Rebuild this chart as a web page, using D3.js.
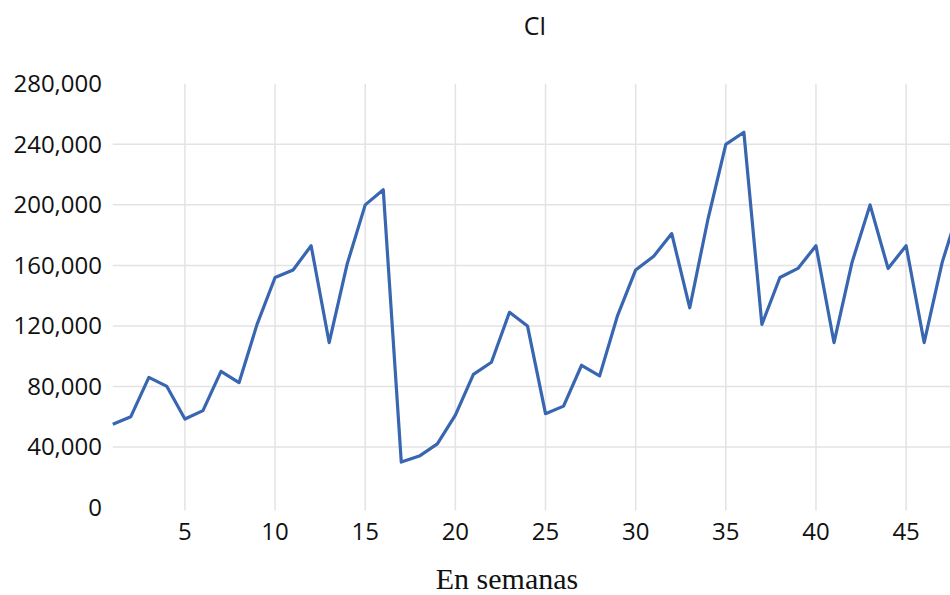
<!DOCTYPE html>
<html>
<head>
<meta charset="utf-8">
<script src="https://d3js.org/d3.v7.min.js"></script>
<style>
  body { margin: 0; background: #fff; }
  svg { display: block; }
</style>
</head>
<body>
<svg id="chart" width="950" height="595"></svg>
<script>
// weekly values
const weeks = d3.range(1, 49);
const ciValues = [
  55000, 60000, 86000, 80000, 58500, 64000, 90000, 82500, 121000, 152000,
  157000, 173000, 109000, 161000, 200000, 210000, 30000, 34000, 42000, 61000,
  88000, 96000, 129000, 120000, 62000, 67000, 94000, 87000, 127000, 157000,
  166000, 181000, 132000, 190000, 240000, 248000, 121000, 152000, 158000, 173000,
  109000, 162000, 200000, 158000, 173000, 109000, 162000, 200000
];
const yTicks = [0, 40000, 80000, 120000, 160000, 200000, 240000, 280000];
const xTicks = [5, 10, 15, 20, 25, 30, 35, 40, 45];
const title = "CI";
const xTitle = "En semanas";

const svg = d3.select("#chart");

// week 1 sits at the left edge of the plot, the right side runs off the picture
let x = d3.scaleLinear().domain([1, 48]).range([112.8, 112.8 + 47 * 18.03]);
let y = d3.scaleLinear().domain([0, 280000]).range([507.5, 83.8]);

// grid
svg.append("g").selectAll("line")
  .data(yTicks.filter(d => d > 0 && d < 280000))
  .join("line")
  .attr("x1", x(1)).attr("x2", 950)
  .attr("y1", d => y(d)).attr("y2", d => y(d))
  .attr("stroke", "#e3e3e3").attr("stroke-width", 1.5);

svg.append("g").selectAll("line")
  .data(xTicks)
  .join("line")
  .attr("x1", d => x(d)).attr("x2", d => x(d))
  .attr("y1", y(280000)).attr("y2", y(0) + 3)
  .attr("stroke", "#e3e3e3").attr("stroke-width", 1.5);

// axis labels
svg.append("g").selectAll("text")
  .data(yTicks)
  .join("text")
  .attr("x", 102)
  .attr("y", d => y(d))
  .attr("dy", "0.35em")
  .attr("text-anchor", "end")
  .style("font-family", "'Open Sans', sans-serif")
  .style("font-size", "24px")
  .style("fill", "#111")
  .text(d3.format(","));

svg.append("g").selectAll("text")
  .data(xTicks)
  .join("text")
  .attr("x", d => x(d))
  .attr("y", 540)
  .attr("text-anchor", "middle")
  .style("font-family", "'Open Sans', sans-serif")
  .style("font-size", "24px")
  .style("fill", "#111")
  .text(d => d);

// series line
let line = d3.line()
  .x((d, i) => x(weeks[i]))
  .y(d => y(d));

svg.append("path")
  .datum(ciValues)
  .attr("fill", "none")
  .attr("stroke", "#3866b0")
  .attr("stroke-width", 3.2)
  .attr("stroke-linejoin", "round")
  .attr("d", line);

// titles
svg.append("text")
  .attr("x", 535).attr("y", 35)
  .attr("text-anchor", "middle")
  .style("font-family", "'Open Sans', sans-serif")
  .style("font-size", "25px")
  .style("fill", "#111")
  .text(title);

svg.append("text")
  .attr("x", 507).attr("y", 589)
  .attr("text-anchor", "middle")
  .style("font-family", "'Liberation Serif', 'Times New Roman', serif")
  .style("font-size", "30px")
  .style("fill", "#111")
  .text(xTitle);
</script>
</body>
</html>
